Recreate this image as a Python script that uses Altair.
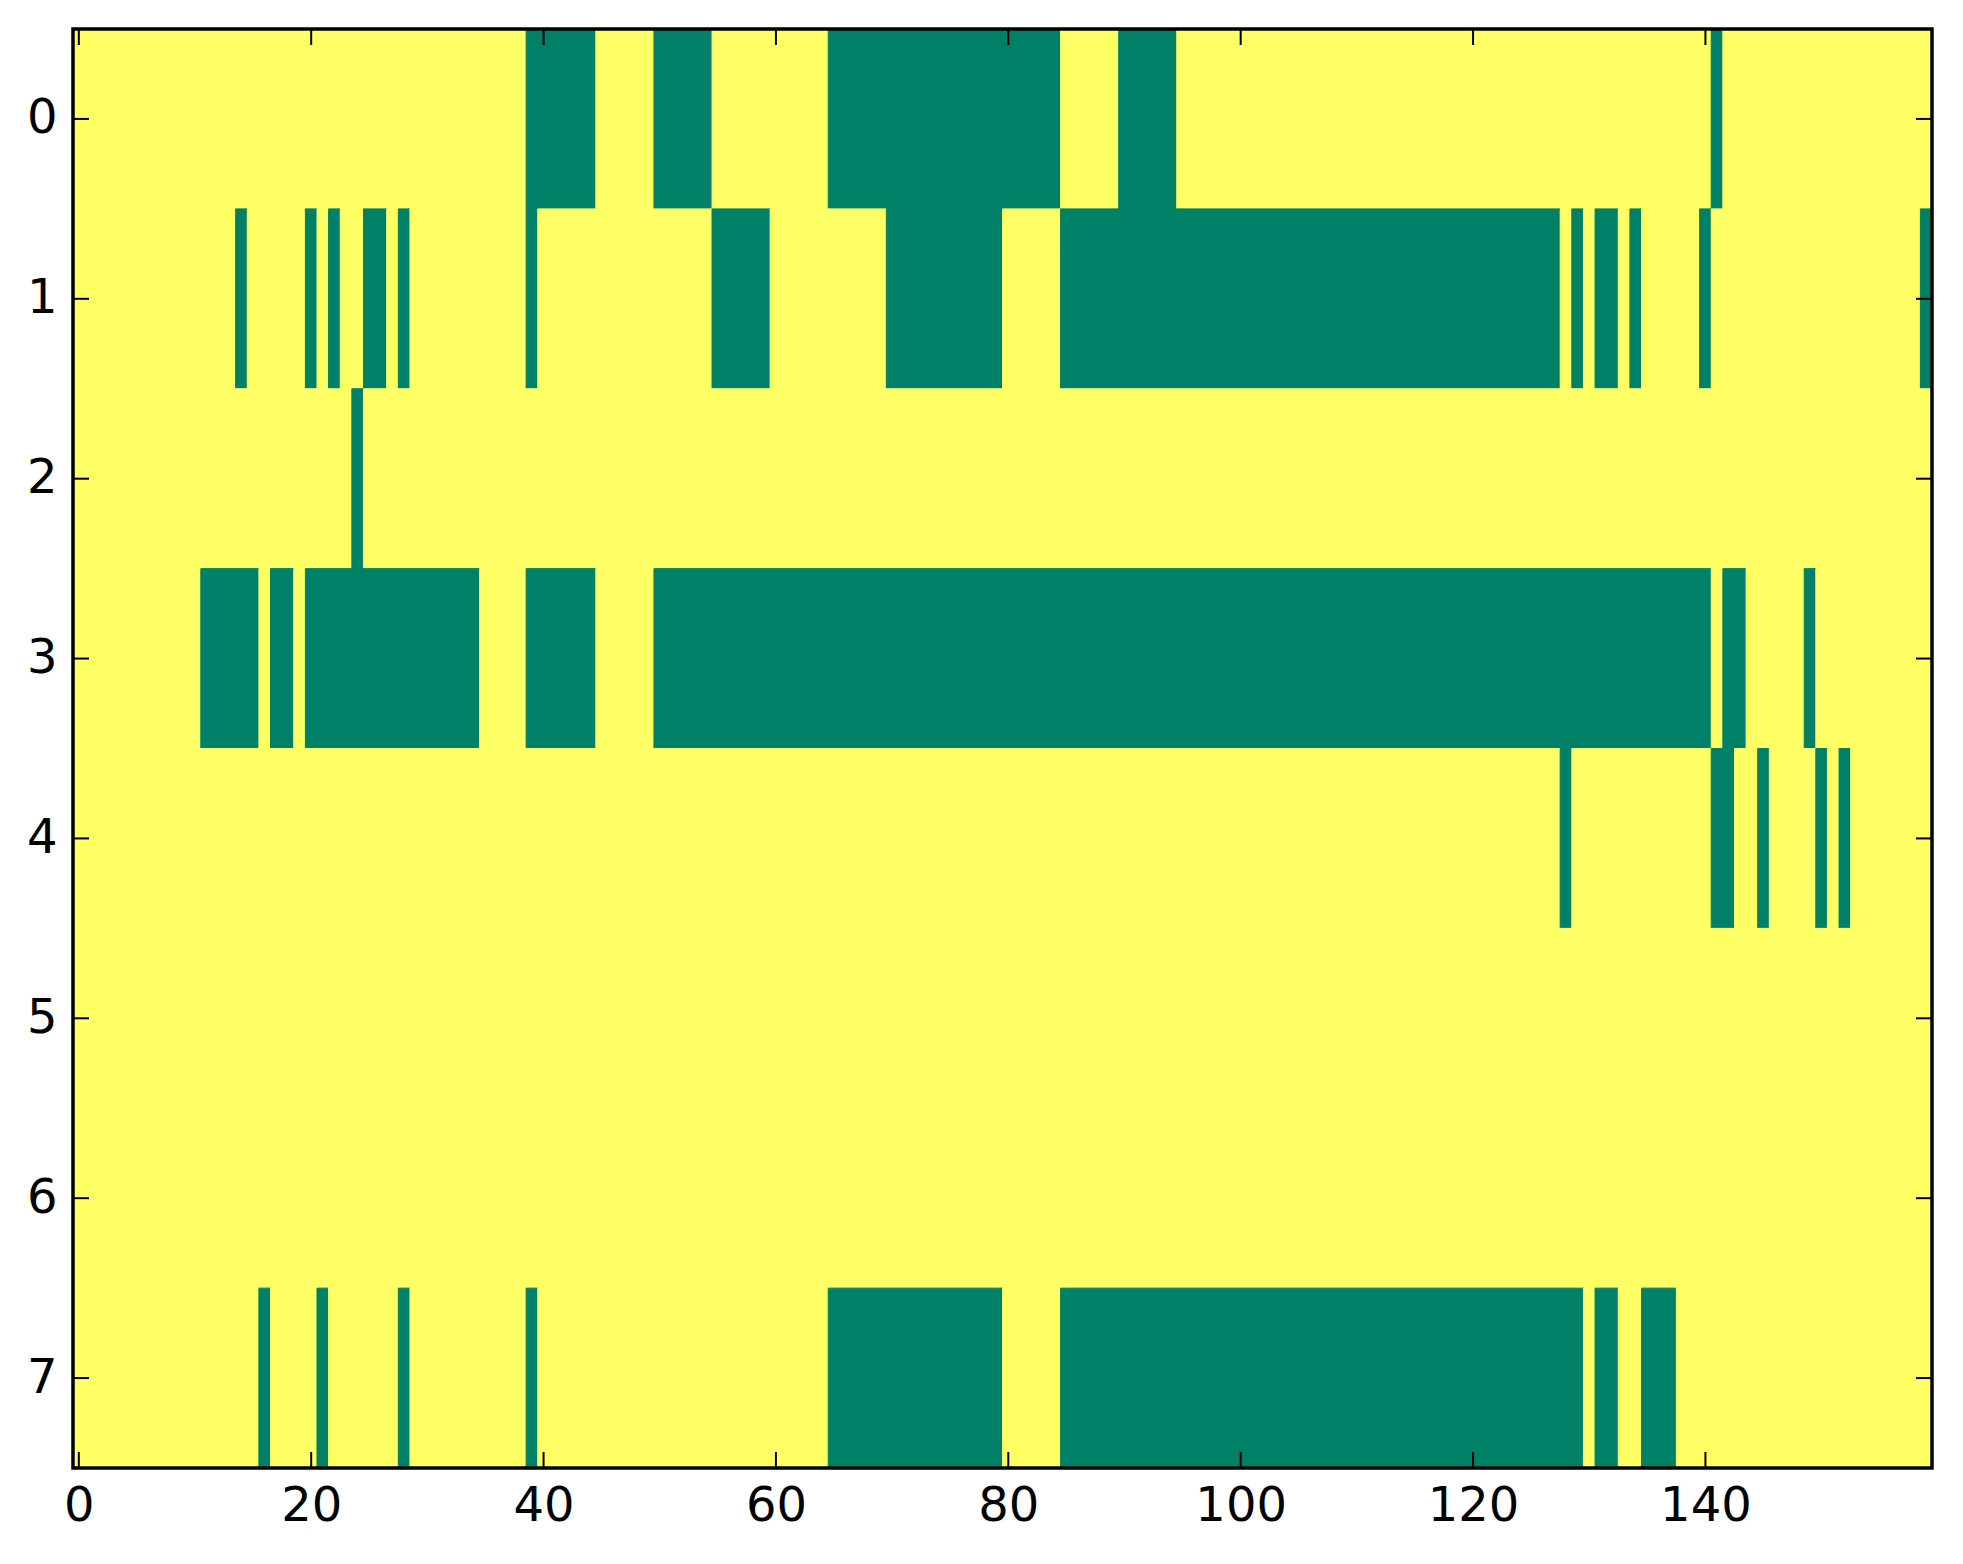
import altair as alt
import pandas as pd

# ---- data (8 rows x 160 columns binary image) ----
n_rows = 8
n_cols = 160
row_ids = [0, 1, 2, 3, 4, 5, 6, 7]

# inclusive column ranges of the green (value 1) cells in each row
green_row0 = [(39, 44), (50, 54), (65, 84), (90, 94), (141, 141)]
green_row1 = [(14, 14), (20, 20), (22, 22), (25, 26), (28, 28), (39, 39), (55, 59),
              (70, 79), (85, 127), (129, 129), (131, 132), (134, 134), (140, 140), (159, 159)]
green_row2 = [(24, 24)]
green_row3 = [(11, 15), (17, 18), (20, 34), (39, 44), (50, 140), (142, 143), (149, 149)]
green_row4 = [(128, 128), (141, 142), (145, 145), (150, 150), (152, 152)]
green_row5 = []
green_row6 = []
green_row7 = [(16, 16), (21, 21), (28, 28), (39, 39), (65, 79), (85, 129), (131, 132), (135, 137)]

green_runs = [green_row0, green_row1, green_row2, green_row3,
              green_row4, green_row5, green_row6, green_row7]

x_tick_values = [0, 20, 40, 60, 80, 100, 120, 140]
y_tick_values = [0, 1, 2, 3, 4, 5, 6, 7]

GREEN = "#008066"
YELLOW = "#ffff66"

# ---- build cell table (merged into runs of equal value) ----
records = []
for r in row_ids:
    cells = [0] * n_cols
    for a, b in green_runs[r]:
        for c in range(a, b + 1):
            cells[c] = 1
    start = 0
    for c in range(1, n_cols + 1):
        if c == n_cols or cells[c] != cells[start]:
            records.append({"row": r, "x0": start - 0.5, "x1": c - 0.5,
                            "y0": r - 0.5, "y1": r + 0.5, "v": cells[start]})
            start = c
cells_df = pd.DataFrame(records)

frame_df = pd.DataFrame([{"x0": -0.5, "x1": n_cols - 0.5, "y0": -0.5, "y1": n_rows - 0.5}])
xt_df = pd.DataFrame({"t": x_tick_values})
yt_df = pd.DataFrame({"t": y_tick_values})

W = 1859
H = 1439
TICK = 16
FONT = "DejaVu Sans"

xs = alt.Scale(domain=[-0.5, n_cols - 0.5], nice=False, zero=False)
ys = alt.Scale(domain=[-0.5, n_rows - 0.5], nice=False, zero=False, reverse=True)

x_axis = alt.Axis(values=x_tick_values, format="d", ticks=False, domain=False, grid=False,
                  labelFontSize=48, labelFont=FONT, labelColor="black", labelPadding=14,
                  labelFlush=False, title=None)
y_axis = alt.Axis(values=y_tick_values, format="d", ticks=False, domain=False, grid=False,
                  labelFontSize=48, labelFont=FONT, labelColor="black", labelPadding=16,
                  title=None)

cells = alt.Chart(cells_df).mark_rect(strokeWidth=1).encode(
    x=alt.X("x0:Q", scale=xs, axis=x_axis),
    x2="x1:Q",
    y=alt.Y("y0:Q", scale=ys, axis=y_axis),
    y2="y1:Q",
    color=alt.Color("v:N", scale=alt.Scale(domain=[0, 1], range=[YELLOW, GREEN]), legend=None),
    stroke=alt.Stroke("v:N", scale=alt.Scale(domain=[0, 1], range=[YELLOW, GREEN]), legend=None),
)

frame = alt.Chart(frame_df).mark_rect(fillOpacity=0, stroke="black", strokeWidth=3.5).encode(
    x=alt.X("x0:Q", scale=xs, axis=x_axis),
    x2="x1:Q",
    y=alt.Y("y0:Q", scale=ys, axis=y_axis),
    y2="y1:Q",
)

xt_bottom = alt.Chart(xt_df).mark_rule(color="black", strokeWidth=2).encode(
    x=alt.X("t:Q", scale=xs, axis=x_axis), y=alt.value(H), y2=alt.value(H - TICK))
xt_top = alt.Chart(xt_df).mark_rule(color="black", strokeWidth=2).encode(
    x=alt.X("t:Q", scale=xs, axis=x_axis), y=alt.value(0), y2=alt.value(TICK))
yt_left = alt.Chart(yt_df).mark_rule(color="black", strokeWidth=2).encode(
    y=alt.Y("t:Q", scale=ys, axis=y_axis), x=alt.value(0), x2=alt.value(TICK))
yt_right = alt.Chart(yt_df).mark_rule(color="black", strokeWidth=2).encode(
    y=alt.Y("t:Q", scale=ys, axis=y_axis), x=alt.value(W), x2=alt.value(W - TICK))

chart = alt.layer(cells, xt_bottom, xt_top, yt_left, yt_right, frame).properties(
    width=W, height=H,
    autosize=alt.AutoSizeParams(type="none"),
    padding={"left": 65, "top": 21, "right": 18, "bottom": 78},
    background="white",
).configure_view(strokeWidth=0)

chart.save("out.html", embed_options={"renderer": "svg", "actions": False})
